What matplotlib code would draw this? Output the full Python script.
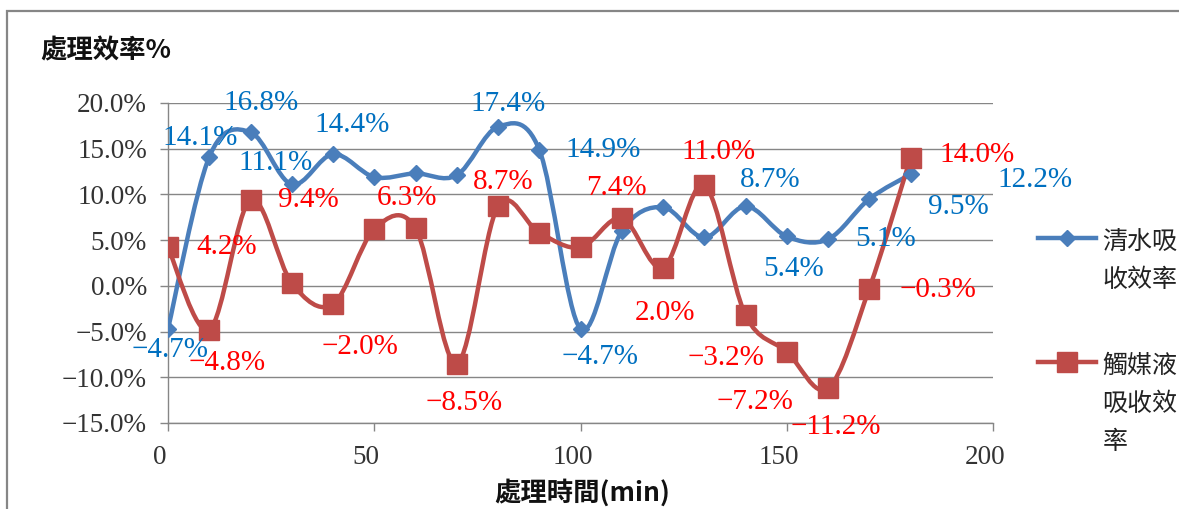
import numpy as np
import matplotlib
matplotlib.use("Agg")
import matplotlib.pyplot as plt
from matplotlib.path import Path
from matplotlib.patches import PathPatch, Rectangle
from matplotlib.lines import Line2D
from matplotlib.ticker import FuncFormatter
from matplotlib.transforms import ScaledTranslation

# ---- data -----------------------------------------------------------------
times = [0, 10, 20, 30, 40, 50, 60, 70, 80, 90,
         100, 110, 120, 130, 140, 150, 160, 170, 180]
water_eff = [-4.7, 14.1, 16.8, 11.1, 14.4, 11.9, 12.3, 12.1, 17.4, 14.9,
             -4.7, 6.0, 8.6, 5.3, 8.7, 5.4, 5.1, 9.5, 12.2]
catalyst_eff = [4.2, -4.8, 9.4, 0.3, -2.0, 6.2, 6.3, -8.5, 8.7, 5.8,
                4.2, 7.4, 2.0, 11.0, -3.2, -7.2, -11.2, -0.3, 14.0]
series_names = ["清水吸\n收效率", "觸媒液\n吸收效\n率"]
y_title = "處理效率%"
x_title = "處理時間(min)"

# value-label placement (point index -> offset in pixels from the marker)
water_label_offsets = {0: (2, 21), 1: (-9, -19), 2: (11, -29), 3: (-16, -21),
                       4: (19, -29), 8: (10, -23), 9: (64, 0), 10: (20, 28),
                       14: (25, -26), 15: (7, 33), 16: (58, 0), 17: (89, 8),
                       18: (124, 6)}
catalyst_label_offsets = {0: (59, 0), 1: (18, 33), 2: (58, 0), 4: (27, 43),
                          6: (-8, -30), 7: (7, 39), 8: (5, -24), 11: (-5, -30),
                          12: (2, 45), 13: (14, -33), 14: (-20, 43),
                          15: (-32, 50), 16: (8, 39), 17: (69, 1), 18: (67, -3)}

# ---- styling --------------------------------------------------------------
W, H, DPI = 1179, 509, 100
BLUE, RED = "#4A7EBB", "#BE4B48"
BLUE_TXT, RED_TXT = "#0070C0", "#FF0000"
GRID = "#868686"
CJK = ["Noto Sans CJK TC", "DejaVu Sans"]
LW = 3.2
plt.rcParams["font.family"] = ["Liberation Serif", "DejaVu Serif"]


def pct(v):
    return f"{v:.1f}%".replace("-", "\u2212")


def smooth_path(xs, ys):
    """Cubic Bezier path through the points (Catmull-Rom style tangents)."""
    pts = np.column_stack([xs, ys]).astype(float)
    ext = np.vstack([pts[0], pts, pts[-1]])
    verts = [pts[0]]
    codes = [Path.MOVETO]
    for i in range(len(pts) - 1):
        p0, p1, p2, p3 = ext[i], ext[i + 1], ext[i + 2], ext[i + 3]
        c1 = p1 + (p2 - p0) / 6.0
        c2 = p2 - (p3 - p1) / 6.0
        verts += [c1, c2, p2]
        codes += [Path.CURVE4] * 3
    return Path(verts, codes)


fig = plt.figure(figsize=(W / DPI, H / DPI), dpi=DPI)
ax = fig.add_axes([168 / W, 1 - 423 / H, (993 - 168) / W, (423 - 103) / H])

ax.set_xlim(0, 200)
ax.set_ylim(-15, 20)
ax.set_xticks([0, 50, 100, 150, 200])
ax.set_yticks(np.arange(-15, 21, 5))
ax.yaxis.set_major_formatter(FuncFormatter(lambda v, _: pct(v)))
ax.grid(axis="y", color=GRID, linewidth=1.0)
ax.set_axisbelow(True)
for side in ("top", "right"):
    ax.spines[side].set_visible(False)
for side in ("left", "bottom"):
    ax.spines[side].set_color(GRID)
    ax.spines[side].set_linewidth(1.0)
ax.tick_params(axis="both", direction="out", length=5.8, width=1.0,
               color=GRID, labelcolor="#333333")
ax.tick_params(axis="y", labelsize=19.5, pad=9.4)
ax.tick_params(axis="x", labelsize=19.5, pad=10)
shift = ScaledTranslation(-8 / DPI, 0, fig.dpi_scale_trans)
for lab in ax.get_xticklabels():
    lab.set_transform(lab.get_transform() + shift)

# smoothed lines with markers
for vals, col, mk, ms in ((water_eff, BLUE, "D", 8.6),
                          (catalyst_eff, RED, "s", 14)):
    ax.add_patch(PathPatch(smooth_path(times, vals), fill=False,
                           edgecolor=col, linewidth=LW, zorder=3,
                           capstyle="round", joinstyle="round"))
    ax.plot(times, vals, linestyle="none", marker=mk, markersize=ms,
            color=col, zorder=4)

# value labels
for vals, offsets, col in ((water_eff, water_label_offsets, BLUE_TXT),
                           (catalyst_eff, catalyst_label_offsets, RED_TXT)):
    for i, (dx, dy) in offsets.items():
        ax.annotate(pct(vals[i]), (times[i], vals[i]), xytext=(dx, -dy),
                    textcoords="offset pixels", ha="center", va="center",
                    fontsize=21, color=col, zorder=5, annotation_clip=False)

# titles
fig.text(40 / W, 1 - 51 / H, y_title, ha="left", va="center",
         fontsize=19, fontweight="bold", family=CJK, color="#111111")
fig.text(582 / W, 1 - 493 / H, x_title, ha="center", va="center",
         fontsize=19, fontweight="bold", family=CJK, color="#111111")

# legend
handles = [Line2D([], [], color=BLUE, lw=LW, marker="D", markersize=8.6),
           Line2D([], [], color=RED, lw=LW, marker="s", markersize=14)]
leg = fig.legend(handles, series_names, loc="upper left",
                 bbox_to_anchor=(1038 / W, 1 - 229 / H),
                 frameon=False, borderpad=0, borderaxespad=0,
                 handlelength=2.33, handletextpad=0.25, labelspacing=2.4,
                 prop={"family": CJK, "size": 18})
for t in leg.get_texts():
    t.set_linespacing(1.6)
    t.set_color("#222222")
for col in leg._legend_handle_box.get_children():
    for row in col.get_children():
        row.align = "top"

# outer chart frame
fig.add_artist(Rectangle((7 / W, -0.1), 1.2, 1.1 - 11 / H,
                         transform=fig.transFigure, fill=False,
                         edgecolor=GRID, linewidth=1.6, clip_on=False))

fig.savefig("out.png", dpi=DPI)
